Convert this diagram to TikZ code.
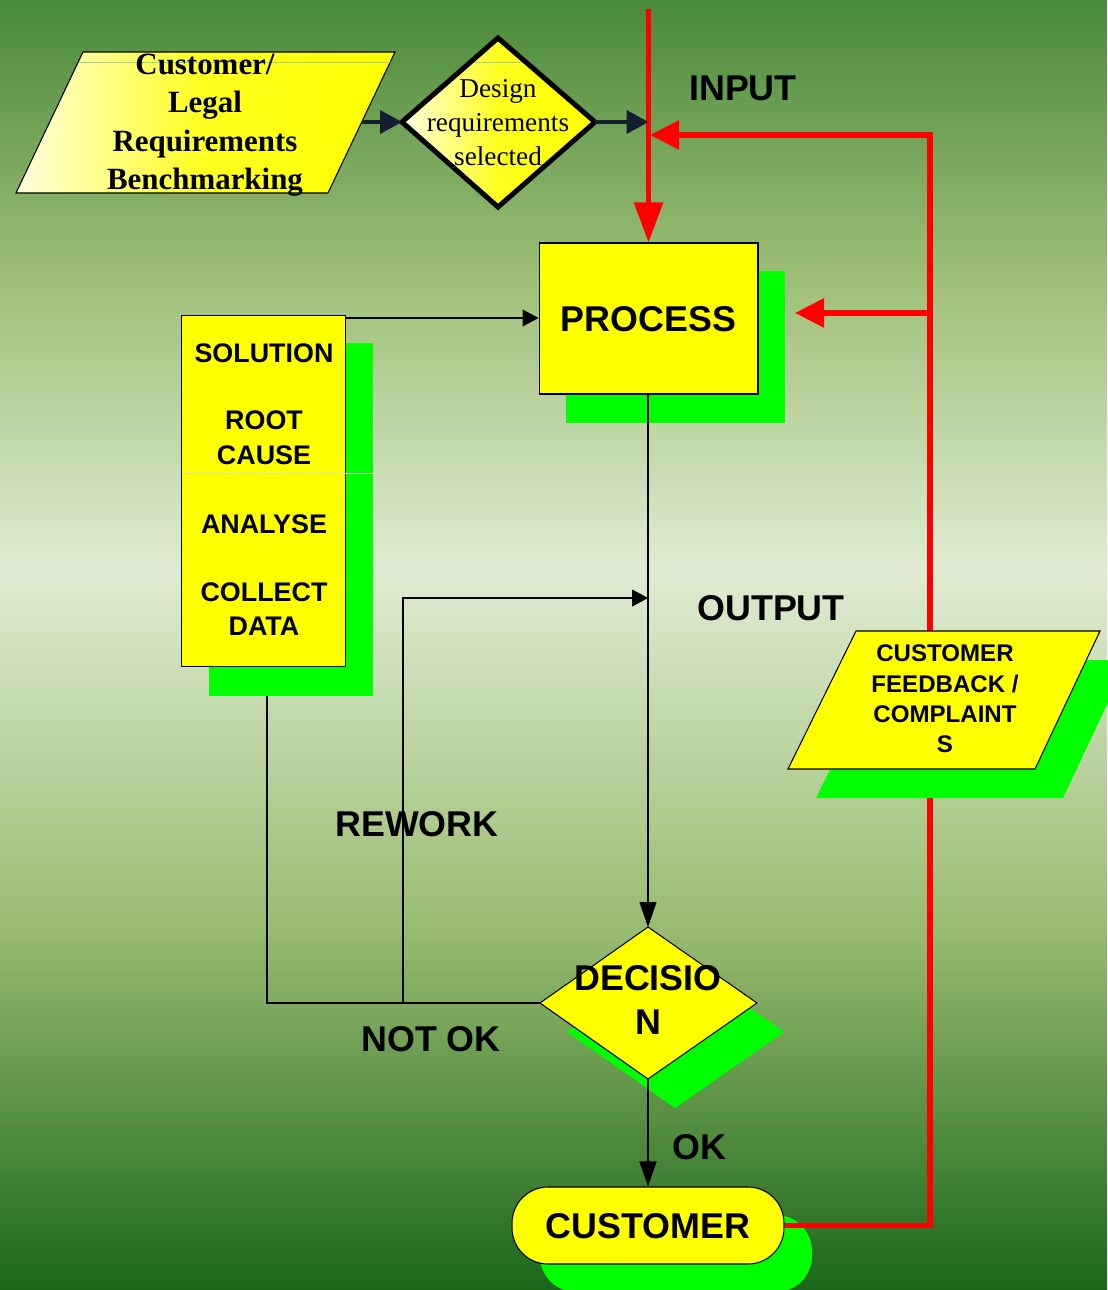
\documentclass[tikz,border=0pt]{standalone}
\usepackage{fontspec}
\setmainfont{Liberation Serif}
\setsansfont{Liberation Sans}
\usetikzlibrary{arrows.meta}
\definecolor{bgtop}{RGB}{74,138,58}
\definecolor{bgup}{RGB}{160,192,122}
\definecolor{bgmid}{RGB}{224,236,210}
\definecolor{bglow}{RGB}{152,187,112}
\definecolor{bgbot}{RGB}{26,102,26}
\definecolor{shgreen}{RGB}{0,255,0}
\definecolor{navy}{RGB}{20,30,48}
\definecolor{redl}{RGB}{255,0,0}
\definecolor{ylw}{RGB}{255,255,0}
\definecolor{faintg}{RGB}{165,205,145}
\definecolor{faintp}{RGB}{210,228,180}
\tikzset{
 boxfill/.style={fill=ylw, draw=black, line width=0.6pt},
 yshade/.style={draw=black, line width=0.6pt, left color=ylw!12!white, right color=ylw, middle color=ylw!88!white},
 redline/.style={draw=redl, line width=0.11cm},
 redtipv/.style={-{Triangle[length=0.8cm,width=0.56cm]}},
 redtiph/.style={-{Triangle[length=0.58cm,width=0.56cm]}},
 navyline/.style={draw=navy, line width=0.08cm, -{Triangle[length=0.44cm,width=0.46cm]}},
 conn/.style={draw=black, line width=0.6pt},
 harrow/.style={-{Triangle[length=0.32cm,width=0.34cm]}},
 varrow/.style={-{Triangle[length=0.5cm,width=0.34cm]}},
 biglabel/.style={font=\sffamily\bfseries\fontsize{20.4pt}{24pt}\selectfont, inner sep=0pt, text height=14.6pt, text depth=0pt},
 midlabel/.style={font=\sffamily\bfseries\fontsize{15.3pt}{18pt}\selectfont, inner sep=0pt, text height=10.95pt, text depth=0pt},
 smalllabel/.style={font=\sffamily\bfseries\fontsize{13.7pt}{16pt}\selectfont, inner sep=0pt, text height=9.8pt, text depth=0pt},
 serifbold/.style={font=\rmfamily\bfseries\fontsize{17.6pt}{20pt}\selectfont, inner sep=0pt, text height=11.65pt, text depth=0pt},
 serifreg/.style={font=\rmfamily\fontsize{15.5pt}{18pt}\selectfont, inner sep=0pt, text height=10.26pt, text depth=0pt},
}
\begin{document}
\begin{tikzpicture}[x=0.02cm,y=-0.02cm]
\useasboundingbox (0,0) rectangle (1107,1290);
% background
\shade[top color=bgtop, bottom color=bgmid, middle color=bgup] (0,0) rectangle (1107,571);
\shade[top color=bgmid, bottom color=bgbot, middle color=bglow] (0,570) rectangle (1107,1290);
% shadows
\fill[shgreen] (566,271) rectangle (785,423);
\fill[shgreen] (209,343) rectangle (373,696);
\fill[shgreen] (675,956) -- (784,1032) -- (675,1108) -- (567,1032) -- cycle;
\fill[shgreen, rounded corners=0.72cm] (540,1215) rectangle (812,1292);
% process
\node[boxfill, biglabel, minimum width=4.38cm, minimum height=3.02cm] (proc) at (648.5,318.5) {PROCESS};
% customer
\node[boxfill, biglabel, rounded corners=0.72cm, minimum width=5.44cm, minimum height=1.54cm] (cust) at (648,1225.5) {CUSTOMER};
% red feedback lines
\coordinate (inTop) at (648.5,9);
\coordinate (fbTop) at (930,135);
\coordinate (inJoin) at (650,135);
\coordinate (fbMid) at (930,313);
\coordinate (procIn) at (795,313);
\draw[redline, redtipv] (inTop) -- (proc.north);
\draw[redline, redtiph] (cust.east) -| (fbTop) -- (inJoin);
\draw[redline, redtiph] (fbMid) -- (procIn);
% customer feedback parallelogram
\fill[shgreen] (884,660) -- (1128,660) -- (1063,798) -- (816,798) -- cycle;
\draw[boxfill] (856,631) -- (1100,631) -- (1035,769) -- (788,769) -- cycle;
\node[smalllabel] (fb1) at (945,653) {CUSTOMER};
\node[smalllabel] (fb2) at (945,684) {FEEDBACK /};
\node[smalllabel] (fb3) at (945,714) {COMPLAINT};
\node[smalllabel] (fb4) at (945,744) {S};
% customer / legal parallelogram
\draw[yshade] (83,52) -- (395,52) -- (328,193) -- (16,193) -- cycle;
\draw[faintg, line width=0.5pt] (79,62) -- (390,62);
\node[serifbold] (cl1) at (205,64) {Customer/};
\node[serifbold] (cl2) at (205,102.5) {Legal};
\node[serifbold] (cl3) at (205,141) {Requirements};
\node[serifbold] (cl4) at (205,179) {Benchmarking};
% design diamond
\coordinate (dT) at (498,38);
\coordinate (dR) at (595,122);
\coordinate (dB) at (498,207);
\coordinate (dL) at (402,122);
\shade[yshade, line width=0.1cm, line join=miter] (dT) -- (dR) -- (dB) -- (dL) -- cycle;
\draw[faintg, line width=0.5pt] (474,62) -- (522,62);
\node[serifreg] (ds1) at (498,88.5) {Design};
\node[serifreg] (ds2) at (498,122) {requirements};
\node[serifreg] (ds3) at (498,156.5) {selected};
\coordinate (p1R) at (361.5,122);
\coordinate (inMid) at (648.5,122);
\draw[navyline] (p1R) -- (dL);
\draw[navyline] (dR) -- (inMid);
\node[biglabel] (input) at (743,87.5) {INPUT};
% left box
\node[boxfill, minimum width=3.28cm, minimum height=7.04cm, inner sep=0pt] (lbox) at (263.5,491) {};
\draw[faintp, line width=0.5pt] (182,473) -- (373,473);
\node[midlabel] (lb1) at (264,352.5) {SOLUTION};
\node[midlabel] (lb2) at (264,420) {ROOT};
\node[midlabel] (lb3) at (264,454.5) {CAUSE};
\node[midlabel] (lb4) at (264,524) {ANALYSE};
\node[midlabel] (lb5) at (264,592) {COLLECT};
\node[midlabel] (lb6) at (264,626) {DATA};
% decision diamond
\coordinate (decT) at (648,927);
\coordinate (decR) at (757,1003);
\coordinate (decB) at (648,1079);
\coordinate (decL) at (540,1003);
\draw[boxfill, line join=miter] (decT) -- (decR) -- (decB) -- (decL) -- cycle;
\node[biglabel] (dec1) at (648,978) {DECISIO};
\node[biglabel] (dec2) at (648,1022) {N};
% connectors
\coordinate (lbOut) at (345.5,318);
\draw[conn, harrow] (lbOut) -- (proc.west |- lbOut);
\draw[conn, varrow] (decT |- proc.south) -- (decT);
\coordinate (lbShadowB) at (267,696);
\draw[conn] (lbShadowB) |- (decL);
\coordinate (rwX) at (403,1003);
\coordinate (outPt) at (648,598);
\draw[conn, harrow] (rwX) |- (outPt);
\draw[conn, line width=1.1pt] (rwX) -- (decL);
\draw[conn, varrow] (decB) -- (cust.north);
% labels
\node[biglabel] (output) at (771,608) {OUTPUT};
\node[biglabel] (rework) at (417,824) {REWORK};
\node[biglabel] (notok) at (431,1039) {NOT OK};
\node[biglabel] (ok) at (699,1147) {OK};
\end{tikzpicture}
\end{document}
